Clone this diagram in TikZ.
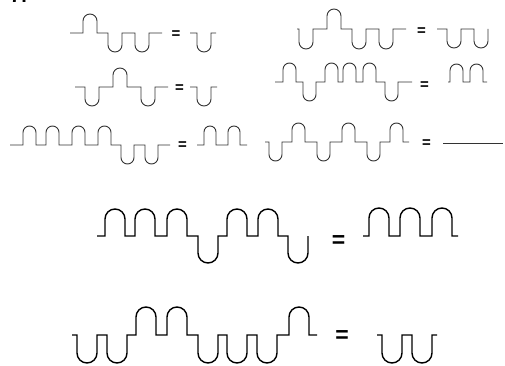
\documentclass[tikz,border=0pt]{standalone}
\usepackage{fontspec}
\setmainfont{Liberation Sans}
\tikzset{
  smallwave/.style={line width=0.9pt, draw=black!80},
  bigwave/.style={line width=1.4pt, draw=black},
  eqsmall/.style={inner sep=0pt, font=\fontsize{15}{15}\selectfont\bfseries},
  eqbig/.style={inner sep=0pt, font=\fontsize{23}{23}\selectfont\bfseries},
  numlabel/.style={anchor=base west, inner sep=0pt, font=\fontsize{20}{20}\selectfont\bfseries},
}
% #1 style, #2 baseline y (px from top), #3 start x, #4 end x, #5 width, #6 height, #7 list sign/x
\newcommand\wv[7]{%
  \draw[#1] (#3,-#2) \foreach \s/\x in {#7} {
    -- (\x,-#2) -- ++(0,{\s*(#6-#5/2)})
    arc[start angle=180, end angle={180-\s*180}, radius={#5/2}]
    -- ++(0,{-\s*(#6-#5/2)}) } -- (#4,-#2);}
\begin{document}
\begin{tikzpicture}[x=1pt,y=1pt]
\useasboundingbox (0,0) rectangle (505,-366);
\clip (0,0) rectangle (505,-366);
\node[numlabel] (num) at (10,-3) {7.};
% row 1 left
\wv{smallwave}{33}{70}{162}{14}{19}{1/83,-1/108,-1/135}
\node[eqsmall] (e1) at (176,-35) {=};
\wv{smallwave}{33}{190}{216}{14}{19}{-1/197}
% row 1 right
\wv{smallwave}{29}{297}{406}{14}{20}{-1/299,1/327,-1/352,-1/379}
\node[eqsmall] (e2) at (421.5,-31.5) {=};
\wv{smallwave}{29}{437}{488}{14}{19}{-1/447,-1/474}
% row 2 left
\wv{smallwave}{87}{75}{168}{14}{19}{-1/85,1/113,-1/141}
\node[eqsmall] (e3) at (179.5,-88.5) {=};
\wv{smallwave}{87}{190}{217}{14}{19}{-1/197}
% row 2 right
\wv{smallwave}{82}{275}{412}{13}{19}{1/283,-1/303,1/325,1/343,1/363,-1/385}
\node[eqsmall] (e4) at (424.5,-86) {=};
\wv{smallwave}{82}{448}{487}{13}{18}{1/450,1/470}
% row 3 left
\wv{smallwave}{145}{10}{170}{13}{19}{1/23,1/46,1/72,1/98,-1/121,-1/145}
\node[eqsmall] (e5) at (182.5,-146) {=};
\wv{smallwave}{145}{197}{247}{12}{19}{1/204,1/228}
% row 3 right
\wv{smallwave}{142}{265}{409}{13}{19}{-1/269,1/292,-1/317,1/342,-1/367,1/390}
\node[eqsmall] (e6) at (426.5,-144) {=};
\coordinate (la) at (443,-143);
\coordinate (lb) at (503,-143);
\draw[smallwave] (la) -- (lb);
% large row 1
\wv{bigwave}{236}{97}{308}{20}{27}{1/105,1/135,1/167,-1/198,1/227,1/258,-1/288}
\node[eqbig] (e7) at (338.5,-242) {=};
\wv{bigwave}{236}{363}{458}{20}{28}{1/369,1/400,1/432}
% large row 2
\wv{bigwave}{335}{72}{317}{20}{28}{-1/77,-1/107,1/136,1/167,-1/198,-1/227,-1/257,1/289}
\node[eqbig] (e8) at (342,-337) {=};
\wv{bigwave}{335}{377}{437}{20}{28}{-1/382,-1/412}
\end{tikzpicture}
\end{document}
